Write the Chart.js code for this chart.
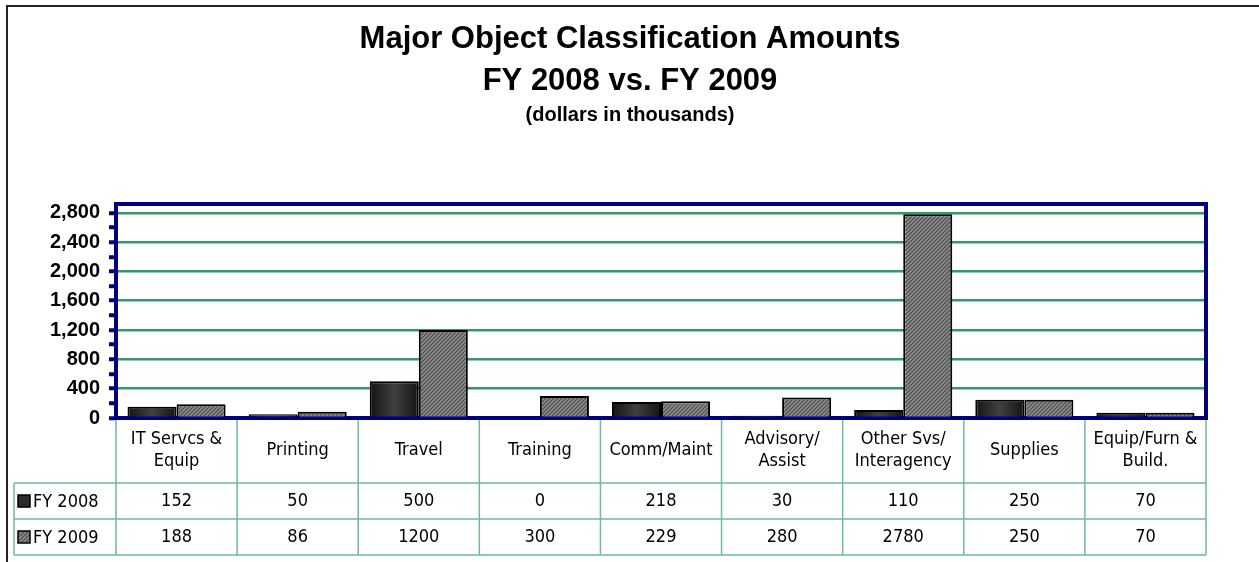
<!DOCTYPE html>
<html>
<head>
<meta charset="utf-8">
<script src="https://cdn.jsdelivr.net/npm/chart.js@4.4.0/dist/chart.umd.min.js"></script>
<style>
  html, body { margin: 0; padding: 0; background: #fff; }
  #wrap { width: 1259px; height: 562px; }
</style>
</head>
<body>
<div id="wrap"><canvas id="chart" width="1259" height="562"></canvas></div>
<script>
// Chart data
const categories = [["IT Servcs &", "Equip"], "Printing", "Travel", "Training", "Comm/Maint",
  ["Advisory/", "Assist"], ["Other Svs/", "Interagency"], "Supplies", ["Equip/Furn &", "Build."]];
const seriesNames = ["FY 2008", "FY 2009"];
const fy2008 = [152, 50, 500, 0, 218, 30, 110, 250, 70];
const fy2009 = [188, 86, 1200, 300, 229, 280, 2780, 250, 70];
const titleLines = ["Major Object Classification Amounts", "FY 2008 vs. FY 2009"];
const subtitleText = "(dollars in thousands)";

const NAVY = "#000080";
const GRID_GREEN = "#339966";
const TABLE_GREEN = "#72bb95";
const BOLD_FONT = "Liberation Sans, Arial, sans-serif";
const NARROW_FONT = "'Liberation Sans Narrow', 'Arial Narrow', 'DejaVu Sans Condensed', sans-serif";
const CAT_PCT = 0.81;

const canvas = document.getElementById("chart");
const ctx = canvas.getContext("2d");

// hatched fill for FY 2009
function makeHatch() {
  const c = document.createElement("canvas");
  c.width = 4;
  c.height = 4;
  const g = c.getContext("2d");
  g.fillStyle = "#8c8c8c";
  g.fillRect(0, 0, 4, 4);
  g.strokeStyle = "#4a4a4a";
  g.lineWidth = 1.2;
  g.beginPath();
  g.moveTo(-1, 5); g.lineTo(5, -1);
  g.moveTo(-1, 1); g.lineTo(1, -1);
  g.moveTo(3, 5); g.lineTo(5, 3);
  g.stroke();
  return ctx.createPattern(c, "repeat");
}
const hatch = makeHatch();
const darkFill = "#2c2c2c";
const seriesFills = [darkFill, hatch];

// FY 2008 bars: dark with a lighter middle
function darkBarFill(c) {
  const chart = c.chart;
  const xs = chart.scales.x;
  if (!chart.chartArea || !xs || c.dataIndex === undefined) return darkFill;
  const colW = (chart.chartArea.right - chart.chartArea.left) / categories.length;
  const cx = xs.getPixelForValue(c.dataIndex);
  const x0 = cx - colW * CAT_PCT / 2;
  const g = chart.ctx.createLinearGradient(x0, 0, cx, 0);
  g.addColorStop(0, "#141414");
  g.addColorStop(0.5, "#404040");
  g.addColorStop(1, "#141414");
  return g;
}

// page frame + titles
const frameTitlePlugin = {
  id: "frameTitle",
  beforeDraw(chart) {
    const c = chart.ctx;
    c.save();
    c.fillStyle = "#fff";
    c.fillRect(0, 0, chart.width, chart.height);
    c.strokeStyle = "#222";
    c.lineWidth = 2;
    c.beginPath();
    c.moveTo(7, chart.height);
    c.lineTo(7, 6);
    c.lineTo(chart.width, 6);
    c.stroke();

    c.fillStyle = "#000";
    c.textAlign = "center";
    c.textBaseline = "alphabetic";
    c.font = "bold 31px " + BOLD_FONT;
    c.fillText(titleLines[0], 630, 48);
    c.fillText(titleLines[1], 630, 90);
    c.font = "bold 20px " + BOLD_FONT;
    c.fillText(subtitleText, 630, 121);
    c.restore();
  },
  beforeDatasetsDraw(chart) {
    const c = chart.ctx;
    const a = chart.chartArea;
    c.save();
    c.strokeStyle = NAVY;
    c.lineWidth = 4;
    c.strokeRect(a.left, a.top, a.right - a.left, a.bottom - a.top);
    c.restore();
  }
};

// data table under the plot
const dataTablePlugin = {
  id: "dataTable",
  afterDraw(chart) {
    const c = chart.ctx;
    const a = chart.chartArea;
    const xs = chart.scales.x;
    const n = categories.length;
    const colW = (a.right - a.left) / n;
    const headTop = a.bottom;
    const headBottom = headTop + 65;
    const rowH = 36;
    const tableLeft = 14;
    const tableBottom = headBottom + rowH * 2;

    c.save();
    c.strokeStyle = TABLE_GREEN;
    c.lineWidth = 1.5;
    c.beginPath();
    for (let i = 0; i <= n; i++) {
      const x = a.left + i * colW;
      c.moveTo(x, headTop + 2);
      c.lineTo(x, tableBottom);
    }
    c.moveTo(tableLeft, headBottom);
    c.lineTo(tableLeft, tableBottom);
    for (let r = 0; r <= 2; r++) {
      const y = headBottom + r * rowH;
      c.moveTo(tableLeft, y);
      c.lineTo(a.right, y);
    }
    c.stroke();

    c.fillStyle = "#000";
    c.textAlign = "center";
    c.textBaseline = "middle";
    c.font = "18px " + NARROW_FONT;
    const midHead = (headTop + headBottom) / 2;
    categories.forEach((lab, i) => {
      const cx = xs.getPixelForValue(i);
      const lines = Array.isArray(lab) ? lab : [lab];
      const lh = 22;
      const y0 = midHead - (lines.length - 1) * lh / 2;
      lines.forEach((t, k) => c.fillText(t, cx, y0 + k * lh));
    });

    const rows = [fy2008, fy2009];
    rows.forEach((vals, r) => {
      const cy = headBottom + rowH * r + rowH / 2;
      vals.forEach((v, i) => {
        c.fillText(String(v), xs.getPixelForValue(i), cy);
      });
      // legend key
      c.fillStyle = seriesFills[r];
      c.fillRect(18, cy - 6, 12, 12);
      c.strokeStyle = "#000";
      c.lineWidth = 1.5;
      c.strokeRect(18, cy - 6, 12, 12);
      c.fillStyle = "#000";
      c.textAlign = "left";
      c.fillText(seriesNames[r], 33, cy + 1);
      c.textAlign = "center";
    });
    c.restore();
  }
};

new Chart(ctx, {
  type: "bar",
  data: {
    labels: categories,
    datasets: [
      {
        label: seriesNames[0],
        data: fy2008,
        backgroundColor: darkBarFill,
        borderColor: "#000",
        borderWidth: 2,
        categoryPercentage: CAT_PCT,
        barPercentage: 1.0
      },
      {
        label: seriesNames[1],
        data: fy2009,
        backgroundColor: hatch,
        borderColor: "#000",
        borderWidth: 2,
        categoryPercentage: CAT_PCT,
        barPercentage: 1.0
      }
    ]
  },
  options: {
    responsive: false,
    animation: false,
    layout: { padding: { top: 204, left: 0, right: 53, bottom: 7 } },
    plugins: {
      legend: { display: false },
      title: { display: false },
      tooltip: { enabled: false }
    },
    scales: {
      x: {
        afterFit(s) { s.height = 137; },
        ticks: { display: false },
        grid: { display: false },
        border: { display: false }
      },
      y: {
        min: 0,
        max: 2920,
        afterFit(s) { s.width = 116; },
        afterBuildTicks(s) { s.ticks = s.ticks.filter((t) => t.value < 2850); },
        ticks: {
          stepSize: 200,
          includeBounds: false,
          autoSkip: false,
          padding: 9,
          color: "#000",
          font: { family: BOLD_FONT, size: 20, weight: "bold" },
          callback: (v) => (Math.round(v) % 400 === 0 ? Math.round(v).toLocaleString("en-US") : "")
        },
        grid: {
          color: (c) => {
            const v = c.tick ? Math.round(c.tick.value) : 0;
            return v % 400 === 0 && v > 0 ? GRID_GREEN : "rgba(0,0,0,0)";
          },
          lineWidth: 2.5,
          tickColor: NAVY,
          tickLength: 7,
          tickWidth: 4
        },
        border: { display: false }
      }
    }
  },
  plugins: [frameTitlePlugin, dataTablePlugin]
});
</script>
</body>
</html>
